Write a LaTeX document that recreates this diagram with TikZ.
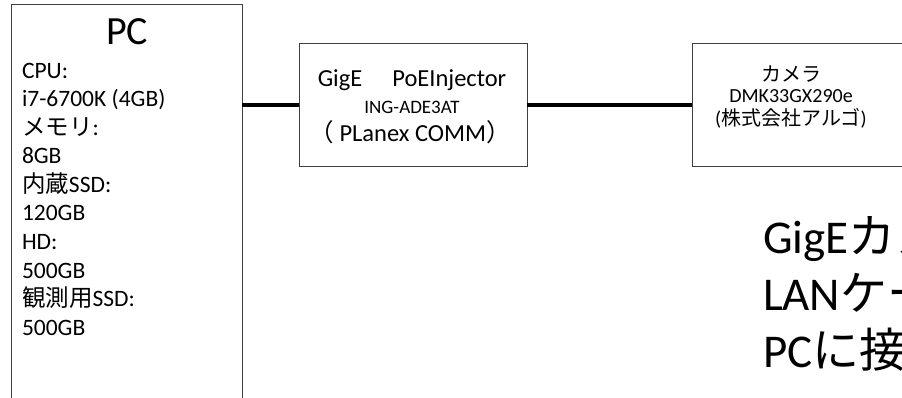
\documentclass[tikz,border=0pt]{standalone}
\usepackage{fontspec}
\setmainfont{Carlito}
\newfontfamily\jpfont{Noto Sans CJK JP}
\newcommand{\J}[1]{{\jpfont #1}}
\begin{document}
\begin{tikzpicture}[x=1pt,y=-1pt,
  box/.style={draw=black!75, line width=1pt, inner sep=0pt, outer sep=0pt},
  wire/.style={line width=4pt, black},
  txt/.style={inner sep=0pt, outer sep=0pt, anchor=base},
  pcline/.style={inner sep=0pt, outer sep=0pt, anchor=base west, font=\fontsize{23.5}{28}\selectfont},
  boxtxt/.style={txt, font=\fontsize{24.5}{28}\selectfont},
  smalltxt/.style={txt, font=\fontsize{19}{22}\selectfont},
  camtxt/.style={txt, font=\fontsize{20}{24}\selectfont},
  bigtxt/.style={inner sep=0pt, outer sep=0pt, anchor=base west, font=\fontsize{47}{56}\selectfont}]
\useasboundingbox (0,0) rectangle (902,398);
\clip (0,0) rectangle (902,398);
\fill[white] (0,0) rectangle (902,398);

% boxes
\node[box, anchor=north west, minimum width=231pt, minimum height=430pt] (pc) at (11,5) {};
\node[box, anchor=north west, minimum width=228pt, minimum height=123pt] (gige) at (299,44) {};
\node[box, anchor=north west, minimum width=228pt, minimum height=123pt] (cam) at (692,44) {};

% connectors
\draw[wire] (gige.west) -- (gige.west -| pc.east);
\draw[wire] (gige.east) -- (cam.west);

% PC text
\node[txt, font=\fontsize{40}{40}\selectfont] (pctitle) at (127,45) {PC};
\node[pcline] (p1) at (22,78.5) {CPU:};
\node[pcline] (p2) at (22,107) {i7-6700K (4GB)};
\node[pcline] (p3) at (22,135.5) {\J{メモリ}:};
\node[pcline] (p4) at (22,164) {8GB};
\node[pcline] (p5) at (22,192.5) {\J{内蔵}SSD:};
\node[pcline] (p6) at (22,221) {120GB};
\node[pcline] (p7) at (22,249.5) {HD:};
\node[pcline] (p8) at (22,278) {500GB};
\node[pcline] (p9) at (22,306.5) {\J{観測用}SSD:};
\node[pcline] (p10) at (22,335) {500GB};

% GigE box text
\node[boxtxt] (g1) at (412,87) {GigE\hspace{30pt}PoEInjector};
\node[smalltxt] (g2) at (412,114) {ING-ADE3AT};
\node[boxtxt] (g3) at (410,142) {\J{（} PLanex COMM\J{）}};

% camera text
\node[camtxt] (c1) at (791,82) {\J{カメラ}};
\node[camtxt] (c2) at (791,103) {DMK33GX290e};
\node[camtxt] (c3) at (791,126) {(\J{株式会社アルゴ})};

% big text
\node[bigtxt] (b1) at (763,253) {GigE\J{カメ}};
\node[bigtxt] (b2) at (763,310) {LAN\J{ケー}};
\node[bigtxt] (b3) at (763,367) {PC\J{に接}};
\end{tikzpicture}
\end{document}
